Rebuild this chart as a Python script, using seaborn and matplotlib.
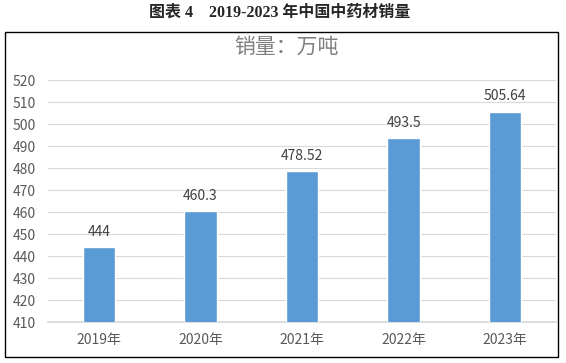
import matplotlib
matplotlib.use("Agg")
import matplotlib.pyplot as plt
import seaborn as sns
import pandas as pd
from matplotlib.patches import Rectangle

years = ["2019年", "2020年", "2021年", "2022年", "2023年"]
sales = [444, 460.3, 478.52, 493.5, 505.64]
labels = ["444", "460.3", "478.52", "493.5", "505.64"]
yticks = [410, 420, 430, 440, 450, 460, 470, 480, 490, 500, 510, 520]

sns.set_theme(style="white")
plt.rcParams['font.family'] = ['Noto Sans CJK SC', 'DejaVu Sans']

df = pd.DataFrame({"year": years, "sales": sales})

fig = plt.figure(figsize=(5.66, 3.63), dpi=100)
ax = fig.add_axes([48/566, 1-322/363, (556-48)/566, (322-80)/363])

sns.barplot(data=df, x="year", y="sales", color="#5B9BD5", width=0.32,
            saturation=1, ax=ax, zorder=3)

ax.set_ylim(410, 520)
ax.set_yticks(yticks)
ax.set_xlim(-0.5, 4.5)
ax.yaxis.grid(True, color="#D9D9D9", linewidth=0.8, zorder=0)
ax.xaxis.grid(False)
for s in ax.spines.values():
    s.set_visible(False)
ax.spines['bottom'].set_visible(True)
ax.spines['bottom'].set_color("#D9D9D9")
ax.set_xlabel("")
ax.set_ylabel("")
ax.tick_params(axis='both', length=0, labelsize=10, labelcolor="#595959")
ax.tick_params(axis='y', pad=9)
ax.tick_params(axis='x', pad=8)

for i, (v, t) in enumerate(zip(sales, labels)):
    ax.annotate(t, (i, v), xytext=(0, 6), textcoords="offset points",
                ha="center", va="bottom", fontsize=10, color="#404040")

fig.text(286/566, 1-47/363, "销量：万吨", ha="center", va="center",
         fontsize=15, color="#7F7F7F")
fig.text(280/566, 1-13/363, "图表 4　2019-2023 年中国中药材销量", ha="center",
         va="center", fontsize=11.5, fontweight="bold",
         family=['Liberation Serif', 'Noto Sans CJK SC'])

fig.patches.append(Rectangle((5/566, 1-357/363), (558-5)/566, (357-32)/363,
                             transform=fig.transFigure, fill=False,
                             edgecolor="black", linewidth=1.0))

fig.savefig("out.png", dpi=100)
